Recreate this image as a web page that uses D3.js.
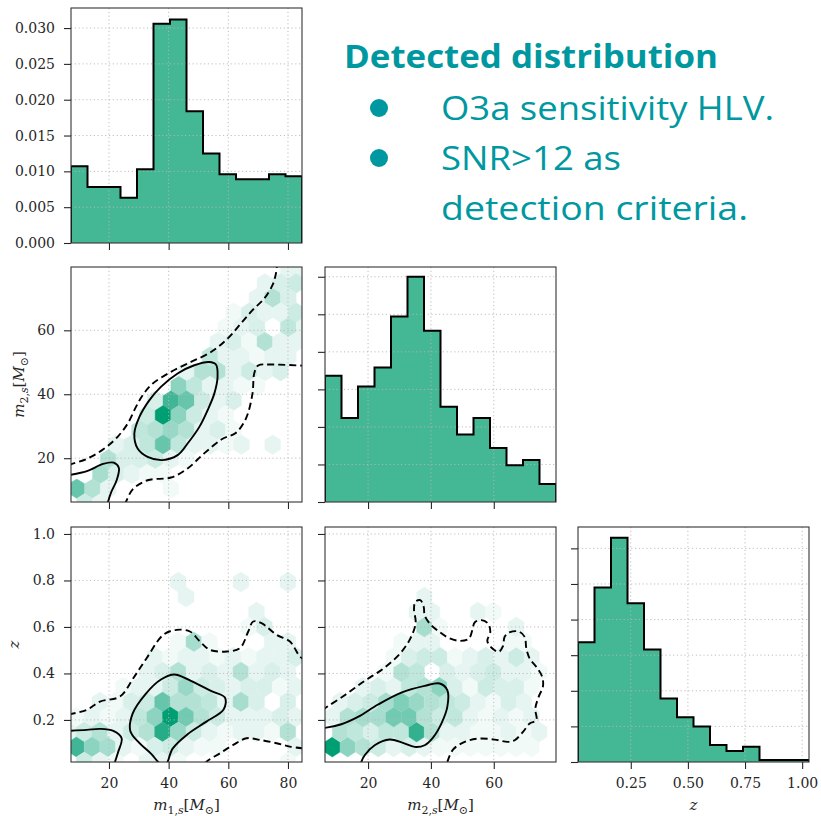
<!DOCTYPE html>
<html>
<head>
<meta charset="utf-8">
<script src="https://cdn.jsdelivr.net/npm/d3@7"></script>
<style>
  body { margin: 0; background: #fff; }
  svg text { font-family: "DejaVu Serif", serif; }
  svg text.note { font-family: "Open Sans", Lato, sans-serif; }
</style>
</head>
<body>
<svg id="chart" width="821" height="816"></svg>
<script>
// ---------------- data ----------------
var m1Range = [7.27, 84.7];
var m2Range = [6.3, 79.8];
var zRange = [0.019, 1.03];

// normalised histograms, 14 equal bins over each range
var m1Hist = [0.0107, 0.0078, 0.0078, 0.0063, 0.0103, 0.0306, 0.0312, 0.0184, 0.0125, 0.0096, 0.0089, 0.0089, 0.0096, 0.0093];
var m2Hist = [0.0168, 0.0112, 0.0154, 0.0179, 0.0247, 0.0300, 0.0228, 0.0127, 0.0090, 0.0112, 0.0072, 0.0049, 0.0056, 0.0024];
var zHist = [1.68, 2.45, 3.15, 2.23, 1.58, 0.89, 0.63, 0.50, 0.24, 0.155, 0.215, 0.028, 0.028, 0.028];

var m1Ticks = [20, 40, 60, 80];
var m2Ticks = [20, 40, 60];
var zTicks = [0.2, 0.4, 0.6, 0.8, 1.0];
var zHistXTicks = [0.25, 0.5, 0.75, 1.0];
var massHistYTicks = [0, 0.005, 0.01, 0.015, 0.02, 0.025, 0.03];
var zHistYTicks = [0, 0.5, 1, 1.5, 2, 2.5, 3];

// hexbin cells: [column, row, relative density]; bin lattice per panel below
var hexM1M2 = [
  [8,-10,.1],[9,-10,.1],
  [6,-9,.1],[7,-9,.15],[8,-9,.2],
  [6,-8,.1],[7,-8,.3],[8,-8,.15],
  [4,-7,.05],[5,-7,.15],[6,-7,.1],[7,-7,.1],[8,-7,.2],
  [4,-6,.05],[5,-6,.1],[6,-6,.15],[8,-6,.25],[9,-6,.1],
  [3,-5,.1],[4,-5,.15],[5,-5,.05],[6,-5,.3],[7,-5,.1],[8,-5,.1],
  [3,-4,.25],[4,-4,.1],[5,-4,.1],[6,-4,.05],[7,-4,.1],[8,-4,.1],
  [1,-3,.1],[2,-3,.3],[3,-3,.3],[4,-3,.1],[5,-3,.2],[6,-3,.1],[7,-3,.15],
  [1,-2,.45],[2,-2,.25],[3,-2,.1],[4,-2,.1],[5,-2,.05],[6,-2,.05],
  [-1,-1,.15],[0,-1,.75],[1,-1,.6],[2,-1,.2],[3,-1,.1],[4,-1,.15],
  [-1,0,.2],[0,0,1],[1,0,.45],[2,0,.2],[3,0,.1],[4,0,.05],
  [-2,1,.25],[-1,1,.3],[0,1,.4],[1,1,.3],[2,1,.1],[3,1,.15],[4,1,.05],
  [-3,2,.1],[-2,2,.15],[-1,2,.25],[0,2,.6],[1,2,.25],[2,2,.1],[3,2,.1],[4,2,.05],[5,2,.1],[7,2,.1],
  [-4,3,.3],[-3,3,.15],[-2,3,.15],[-1,3,.2],[0,3,.1],[1,3,.05],
  [-4,4,.35],[-3,4,.15],[-2,4,.1],[-1,4,.05],[0,4,.05],
  [-6,5,.6],[-5,5,.3],[-4,5,.1],[0,5,.05],
  [-5,6,.2],[-4,6,.1]
];
var hexM1Z = [
  [1,-9,.1],[5,-9,.1],[8,-9,.1],
  [1,-8,.1],
  [6,-7,.1],
  [5,-6,.05],[6,-6,.15],
  [1,-5,.05],[2,-5,.35],[3,-5,.05],[7,-5,.1],[8,-5,.1],
  [-1,-4,.1],[0,-4,.05],[1,-4,.1],[2,-4,.1],[3,-4,.05],[4,-4,.1],[5,-4,.05],[6,-4,.1],[7,-4,.1],[8,-4,.15],
  [-1,-3,.1],[0,-3,.15],[1,-3,.3],[2,-3,.1],[3,-3,.15],[4,-3,.1],[5,-3,.3],[6,-3,.1],[7,-3,.15],[8,-3,.1],
  [-3,-2,.05],[-2,-2,.1],[-1,-2,.1],[0,-2,.2],[1,-2,.4],[2,-2,.2],[3,-2,.15],[4,-2,.1],[5,-2,.15],[6,-2,.15],[7,-2,.05],[8,-2,.1],
  [-4,-1,.1],[-3,-1,.05],[-2,-1,.15],[-1,-1,.2],[0,-1,.6],[1,-1,.3],[2,-1,.3],[3,-1,.25],[4,-1,.1],[5,-1,.35],[6,-1,.15],[8,-1,.15],
  [-6,0,.05],[-5,0,.1],[-4,0,.05],[-3,0,.1],[-2,0,.25],[-1,0,.45],[0,0,1],[1,0,.55],[2,0,.3],[3,0,.2],[4,0,.1],[5,0,.1],[6,0,.1],[7,0,.15],[8,0,.1],
  [-6,1,.1],[-5,1,.2],[-4,1,.3],[-3,1,.1],[-2,1,.2],[-1,1,.3],[0,1,.85],[1,1,.4],[2,1,.2],[3,1,.1],[4,1,.05],[5,1,.1],[6,1,.1],[7,1,.05],[8,1,.3],
  [-6,2,.75],[-5,2,.45],[-4,2,.35],[-3,2,.1],[-2,2,.05],[-1,2,.15],[0,2,.2],[1,2,.1],[2,2,.05],[3,2,.05],[8,2,.1],
  [-5,3,.2],[-4,3,.1],[-3,3,.05],[-1,3,.1],[0,3,.1],[1,3,.05],[8,3,.05]
];
var hexM2Z = [
  [0,0,1],[1,0,.45],[2,0,.3],[3,0,.2],[4,0,.1],[5,0,.15],[6,0,.1],[7,0,.05],[8,0,.05],[9,0,.05],[10,0,.05],[11,0,.05],[12,0,.05],[13,0,.05],
  [0,1,.3],[1,1,.25],[2,1,.15],[3,1,.25],[4,1,.25],[5,1,.8],[6,1,.3],[7,1,.1],[8,1,.1],[9,1,.05],[10,1,.05],[11,1,.1],[12,1,.05],[13,1,.1],
  [0,2,.1],[1,2,.3],[2,2,.35],[3,2,.35],[4,2,.55],[5,2,.55],[6,2,.3],[7,2,.2],[8,2,.25],[9,2,.1],[10,2,.05],[11,2,.1],[12,2,.05],[13,2,.1],
  [0,3,.1],[1,3,.15],[2,3,.2],[3,3,.35],[4,3,.5],[5,3,.4],[6,3,.3],[7,3,.25],[8,3,.2],[9,3,.1],[10,3,.05],[11,3,.15],[12,3,.1],
  [2,4,.1],[3,4,.15],[4,4,.1],[5,4,.25],[6,4,.3],[7,4,.45],[8,4,.15],[9,4,.05],[10,4,.2],[11,4,.15],[12,4,.15],[13,4,.05],
  [3,5,.05],[4,5,.3],[5,5,.25],[7,5,.15],[8,5,.1],[9,5,.15],[10,5,.2],[11,5,.1],[12,5,.1],[13,5,.05],
  [4,6,.05],[5,6,.15],[6,6,.2],[7,6,.2],[8,6,.05],[9,6,.1],[10,6,.15],[11,6,.1],[12,6,.2],[13,6,.1],
  [4,7,.05],[5,7,.1],[6,7,.1],[11,7,.05],[12,7,.05],
  [6,8,.35],[7,8,.05],[12,8,.1],
  [5,9,.1],[6,9,.1],[9,9,.1],[10,9,.05],
  [6,10,.1]
];

// density contours (solid = inner level, dashed = outer level), data coordinates
var cM1M2Dashed = [
  [[6.5,17.8],[7.27,18.1],[12.85,19.9],[18.44,23.0],[22.9,26.7],[26.25,30.8],[29.05,36.05],[31.3,39.7],[34.6,43.3],[40.8,47.0],[47.5,50.1],[54.2,53.2],[59.75,57.4],[64.2,62.1],[68.1,66.3],[72.0,69.9],[74.8,74.1],[75.95,77.7],[76.4,81]],
  [[25.2,5.5],[25.7,6.4],[27.9,10.2],[32.95,13.1],[40.77,13.96],[46.35,16.8],[51.9,21.5],[58.1,26.1],[62.5,27.9],[65.9,32.4],[68.1,40.2],[68.7,46.6],[70.0,49.0],[74.3,49.3],[85.5,48.9]]
];
var cM1M2Solid = [
  [[6.5,14.7],[12.85,16.05],[18.0,18.2],[21.6,18.6],[23.3,17.0],[22.6,13.2],[20.8,9.5],[19.7,6.4],[19.5,5.5]]
];
var cM1M2SolidClosed = [
  [[53.6,50.1],[55.85,49.3],[56.4,45.4],[55.3,40.2],[53.05,35.0],[50.3,29.8],[46.35,24.6],[43.0,20.95],[38.0,19.4],[32.95,20.4],[29.6,23.0],[28.5,27.7],[30.2,32.9],[33.5,38.1],[37.4,42.3],[43.0,46.5],[48.6,49.07]]
];
var cM1ZDashed = [
  [[6.5,0.224],[12.52,0.243],[16.99,0.279],[23.69,0.3006],[28.15,0.3795],[32.62,0.4656],[38.2,0.566],[42.67,0.5876],[47.14,0.5804],[50.49,0.5374],[53.84,0.5015],[59.42,0.4943],[63.89,0.5087],[66.68,0.5804],[68.35,0.6235],[71.14,0.6163],[76.17,0.566],[80.64,0.5374],[83.99,0.4728],[85.5,0.46]],
  [[52.3,0.012],[52.72,0.0208],[57.19,0.0566],[61.65,0.0925],[66.12,0.1212],[70.59,0.114],[76.17,0.0997],[80.64,0.0853],[85.5,0.077]]
];
var cM1ZSolid = [
  [[6.5,0.153],[12.52,0.1571],[16.99,0.1614],[21.45,0.1528],[24.24,0.1212],[23.13,0.0638],[22.01,0.0193],[21.8,0.01]]
];
var cM1ZSolidClosed = [
  [[37.42,0.0093],[34.07,0.0552],[30.16,0.101],[27.15,0.1528],[27.93,0.2274],[32.4,0.3135],[37.42,0.3738],[41.89,0.3953],[47.47,0.368],[54.17,0.325],[58.86,0.2963],[58.42,0.2446],[52.5,0.1916],[46.35,0.1384],[41.33,0.0767],[39.1,0.0093]]
];
var cM2ZDashed = [
  [[5.5,0.24],[6.2,0.2489],[12.56,0.3063],[18.93,0.368],[25.29,0.4254],[30.38,0.4886],[33.56,0.5531],[35.15,0.6177],[34.62,0.6751],[35.04,0.7081],[36.63,0.7153],[37.7,0.6866],[38.01,0.6507],[39.6,0.6148],[42.26,0.5833],[45.65,0.5531],[49.15,0.5402],[52.01,0.5488],[53.18,0.5861],[53.92,0.6192],[56.04,0.6292],[58.16,0.6148],[58.9,0.579],[57.95,0.5402],[59.22,0.5115],[61.56,0.4929],[62.93,0.5173],[63.46,0.5575],[65.16,0.5775],[67.92,0.5804],[69.83,0.5575],[70.36,0.5072],[71.42,0.4642],[73.54,0.4283],[75.34,0.3881],[75.66,0.3451],[74.28,0.2992],[73.22,0.2489],[73.54,0.1987],[71.42,0.1844],[69.3,0.1485],[66.65,0.1126],[64.52,0.1054],[60.28,0.1155],[54.98,0.1198],[50.74,0.1054],[47.03,0.0724],[45.22,0.0193],[45.0,0.01]]
];
var cM2ZSolid = [
  [[5.5,0.165],[6.2,0.1657],[11.5,0.1815],[16.8,0.213],[23.17,0.2662],[30.59,0.3178],[38.01,0.3465],[42.79,0.3566],[45.22,0.3279],[45.22,0.2561],[43.32,0.1844],[40.66,0.124],[38.01,0.0911],[34.83,0.0839],[31.12,0.1011],[26.88,0.1155],[22.11,0.0911],[18.93,0.0481],[17.86,0.0193],[17.7,0.01]]
];

// ---------------- layout ----------------
var svg = d3.select("#chart");
var pw = 231, ph = 235;
var colX = [71, 325, 578], rowY = [8, 267, 527];
var green = "#44b794", hexDark = "#009e73", ink = "#262626";

var xM1 = d3.scaleLinear().domain(m1Range).range([0, pw]);
var xM2 = d3.scaleLinear().domain(m2Range).range([0, pw]);
var xZ = d3.scaleLinear().domain(zRange).range([0, pw]);
var yM2 = d3.scaleLinear().domain(m2Range).range([ph, 0]);
var yZ = d3.scaleLinear().domain(zRange).range([ph, 0]);
var yH1 = d3.scaleLinear().domain([0, 0.0328]).range([ph, 0]);
var yH2 = d3.scaleLinear().domain([0, 0.0313]).range([ph, 0]);
var yH3 = d3.scaleLinear().domain([0, 3.30]).range([ph, 0]);

var hexColor = d3.interpolateRgb("#ffffff", hexDark);
var noLabel = function() { return ""; };

function makePanel(c, r, id) {
  var g = svg.append("g").attr("transform", "translate(" + colX[c] + "," + rowY[r] + ")");
  g.append("clipPath").attr("id", id).append("rect").attr("width", pw).attr("height", ph);
  var inner = g.append("g").attr("clip-path", "url(#" + id + ")");
  return {g: g, inner: inner};
}

function drawHist(p, values, range, x, y) {
  var n = values.length;
  var edges = d3.range(n + 1).map(function(i) { return range[0] + i * (range[1] - range[0]) / n; });
  var pts = [[edges[0], 0]];
  values.forEach(function(v, i) { pts.push([edges[i], v]); });
  pts.push([edges[n], values[n - 1]]);
  pts.push([edges[n], 0]);
  var line = d3.line().x(function(d) { return x(d[0]); }).y(function(d) { return y(d[1]); })
    .curve(d3.curveStepAfter);
  p.inner.append("path").attr("d", line(pts)).attr("fill", green).attr("stroke", "none");
  return function() {
    p.inner.append("path").attr("d", line(pts)).attr("fill", "none")
      .attr("stroke", "#000").attr("stroke-width", 2).attr("stroke-linejoin", "miter");
  };
}

function drawHex(p, cells, grid, x, y) {
  var w = Math.abs(x(grid.x0 + grid.dx) - x(grid.x0));
  var r = Math.abs(y(grid.y0 + grid.dy) - y(grid.y0));
  p.inner.selectAll(null).data(cells).enter().append("path")
    .attr("d", function(d) {
      var shift = (Math.abs(d[1]) % 2 === 1) ? grid.odd : 0;
      var cx = x(grid.x0 + (d[0] + shift) * grid.dx);
      var cy = y(grid.y0 + d[1] * grid.dy);
      var pts = [[0, -2 * r / 3], [w / 2, -r / 3], [w / 2, r / 3], [0, 2 * r / 3], [-w / 2, r / 3], [-w / 2, -r / 3]];
      return "M" + pts.map(function(q) { return (cx + q[0]) + "," + (cy + q[1]); }).join("L") + "Z";
    })
    .attr("fill", function(d) { return hexColor(d[2]); })
    .attr("stroke", function(d) { return hexColor(d[2]); })
    .attr("stroke-width", 0.4);
}

function drawContours(p, lines, x, y, dashed, closed) {
  var line = d3.line().x(function(d) { return x(d[0]); }).y(function(d) { return y(d[1]); })
    .curve(closed ? d3.curveCatmullRomClosed : d3.curveCatmullRom);
  lines.forEach(function(pts) {
    p.inner.append("path").attr("d", line(pts)).attr("fill", "none")
      .attr("stroke", "#000").attr("stroke-width", 1.9)
      .attr("stroke-dasharray", dashed ? "7,4" : null);
  });
}

function drawGrid(p, x, xt, y, yt) {
  p.inner.selectAll(null).data(xt).enter().append("line")
    .attr("x1", function(d) { return x(d); }).attr("x2", function(d) { return x(d); })
    .attr("y1", 0).attr("y2", ph);
  p.inner.selectAll(null).data(yt).enter().append("line")
    .attr("y1", function(d) { return y(d); }).attr("y2", function(d) { return y(d); })
    .attr("x1", 0).attr("x2", pw);
  p.inner.selectAll("line").attr("stroke", "#b8b8b8").attr("stroke-width", 0.9)
    .attr("stroke-dasharray", "1.2,2.6");
}

function drawAxes(p, x, xt, xfmt, y, yt, yfmt) {
  var ax = p.g.append("g").attr("transform", "translate(0," + ph + ")")
    .call(d3.axisBottom(x).tickValues(xt).tickSize(7).tickPadding(9).tickFormat(xfmt || noLabel));
  var ay = p.g.append("g")
    .call(d3.axisLeft(y).tickValues(yt).tickSize(7).tickPadding(9).tickFormat(yfmt || noLabel));
  [ax, ay].forEach(function(a) {
    a.select(".domain").remove();
    a.attr("font-family", "DejaVu Serif").attr("font-size", 14);
    a.selectAll(".tick line").attr("stroke", ink).attr("stroke-width", 1.1);
    a.selectAll(".tick text").attr("fill", ink);
  });
  p.g.append("rect").attr("width", pw).attr("height", ph)
    .attr("fill", "none").attr("stroke", "#333").attr("stroke-width", 1.1);
}

function mathLabel(t, name, sub) {
  if (name === "z") { t.append("tspan").attr("font-style", "italic").text("z"); return; }
  t.append("tspan").attr("font-style", "italic").text("m");
  t.append("tspan").attr("font-size", "11px").attr("dy", 3.5).text(sub + ",");
  t.append("tspan").attr("font-size", "11px").attr("font-style", "italic").text("s");
  t.append("tspan").attr("dy", -3.5).text("[");
  t.append("tspan").attr("font-style", "italic").text("M");
  t.append("tspan").attr("font-size", "11px").attr("dy", 3.5).text("\u2299");
  t.append("tspan").attr("dy", -3.5).text("]");
}

// ---------------- panels ----------------
// m1 histogram
var p11 = makePanel(0, 0, "c11");
var out11 = drawHist(p11, m1Hist, m1Range, xM1, yH1);
drawGrid(p11, xM1, m1Ticks, yH1, massHistYTicks);
out11();
drawAxes(p11, xM1, m1Ticks, null, yH1, massHistYTicks, d3.format(".3f"));

// m1 vs m2
var p21 = makePanel(0, 1, "c21");
drawHex(p21, hexM1M2, {x0: 38.11, y0: 33.41, dx: 5.252, dy: -4.588, odd: 0.5}, xM1, yM2);
drawGrid(p21, xM1, m1Ticks, yM2, m2Ticks);
drawContours(p21, cM1M2Dashed, xM1, yM2, true, false);
drawContours(p21, cM1M2Solid, xM1, yM2, false, false);
drawContours(p21, cM1M2SolidClosed, xM1, yM2, false, true);
drawAxes(p21, xM1, m1Ticks, null, yM2, m2Ticks, d3.format("d"));

// m2 histogram
var p22 = makePanel(1, 1, "c22");
var out22 = drawHist(p22, m2Hist, m2Range, xM2, yH2);
drawGrid(p22, xM2, m2Ticks, yH2, massHistYTicks);
out22();
drawAxes(p22, xM2, m2Ticks, null, yH2, massHistYTicks, null);

// m1 vs z
var p31 = makePanel(0, 2, "c31");
drawHex(p31, hexM1Z, {x0: 40.57, y0: 0.2125, dx: 5.252, dy: -0.0645, odd: -0.5}, xM1, yZ);
drawGrid(p31, xM1, m1Ticks, yZ, zTicks);
drawContours(p31, cM1ZDashed, xM1, yZ, true, false);
drawContours(p31, cM1ZSolid, xM1, yZ, false, false);
drawContours(p31, cM1ZSolidClosed, xM1, yZ, false, true);
drawAxes(p31, xM1, m1Ticks, d3.format("d"), yZ, zTicks, d3.format(".1f"));

// m2 vs z
var p32 = makePanel(1, 2, "c32");
drawHex(p32, hexM2Z, {x0: 8.63, y0: 0.0834, dx: 4.878, dy: 0.0645, odd: 0.5}, xM2, yZ);
drawGrid(p32, xM2, m2Ticks, yZ, zTicks);
drawContours(p32, cM2ZDashed, xM2, yZ, true, false);
drawContours(p32, cM2ZSolid, xM2, yZ, false, false);
drawAxes(p32, xM2, m2Ticks, d3.format("d"), yZ, zTicks, null);

// z histogram
var p33 = makePanel(2, 2, "c33");
var out33 = drawHist(p33, zHist, zRange, xZ, yH3);
drawGrid(p33, xZ, zHistXTicks, yH3, zHistYTicks);
out33();
drawAxes(p33, xZ, zHistXTicks, d3.format(".2f"), yH3, zHistYTicks, null);

// axis labels
var labels = svg.append("g").attr("font-size", "15px").attr("fill", ink);
mathLabel(labels.append("text").attr("x", colX[0] + pw / 2).attr("y", 810).attr("text-anchor", "middle"), "m", "1");
mathLabel(labels.append("text").attr("x", colX[1] + pw / 2).attr("y", 810).attr("text-anchor", "middle"), "m", "2");
mathLabel(labels.append("text").attr("x", colX[2] + pw / 2).attr("y", 810).attr("text-anchor", "middle"), "z");
mathLabel(labels.append("text").attr("text-anchor", "middle")
  .attr("transform", "translate(24," + (rowY[1] + ph / 2) + ") rotate(-90)"), "m", "2");
mathLabel(labels.append("text").attr("text-anchor", "middle")
  .attr("transform", "translate(19," + (rowY[2] + ph / 2) + ") rotate(-90)"), "z");

// ---------------- side note ----------------
var teal = "#0098a0";
var note = svg.append("g").attr("fill", teal);
note.append("text").attr("class", "note").attr("x", 344).attr("y", 68).attr("font-weight", "bold")
  .attr("font-size", 33).attr("textLength", 374).attr("lengthAdjust", "spacingAndGlyphs").text("Detected distribution");
var bulletLines = [
  {text: "O3a sensitivity HLV.", y: 120, len: 333, bullet: true},
  {text: "SNR>12 as", y: 170, len: 180, bullet: true},
  {text: "detection criteria.", y: 220, len: 307, bullet: false}
];
bulletLines.forEach(function(b) {
  note.append("text").attr("class", "note").attr("x", 441).attr("y", b.y)
    .attr("font-size", 32).attr("textLength", b.len).attr("lengthAdjust", "spacingAndGlyphs").text(b.text);
  if (b.bullet) note.append("circle").attr("cx", 379).attr("cy", b.y - 12).attr("r", 9);
});
</script>
</body>
</html>
